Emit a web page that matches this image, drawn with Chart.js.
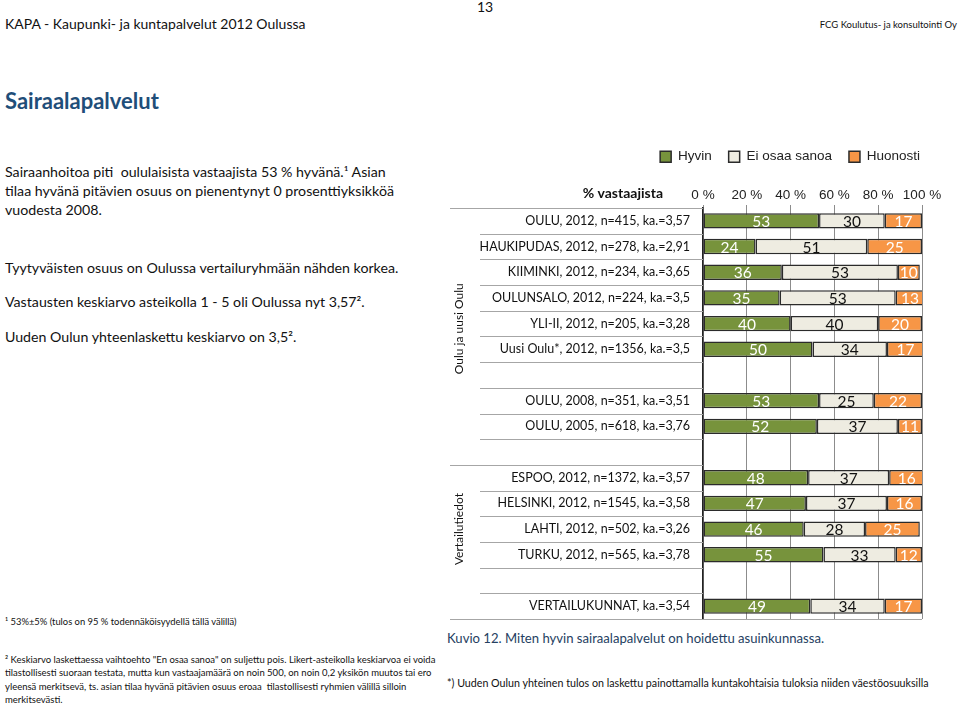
<!DOCTYPE html>
<html>
<head>
<meta charset="utf-8">
<script src="https://cdn.jsdelivr.net/npm/chart.js@4.4.1/dist/chart.umd.min.js"></script>
<style>
  body { margin: 0; width: 960px; height: 703px; background: #fff; overflow: hidden; position: relative; font-family: Lato, sans-serif; color: #111; }
  .t { position: absolute; white-space: nowrap; }
  #chartBox { position: absolute; left: 440px; top: 140px; width: 520px; height: 490px; }
</style>
</head>
<body>
  <div class="t" style="left:0;width:970px;text-align:center;top:-1px;font-size:14px;line-height:16px;">13</div>
  <div class="t" style="left:5px;top:15px;font-size:14px;line-height:18px;">KAPA - Kaupunki- ja kuntapalvelut 2012 Oulussa</div>
  <div class="t" style="right:3px;top:18px;font-size:9.5px;line-height:13px;">FCG Koulutus- ja konsultointi Oy</div>

  <div class="t" style="left:5px;top:87px;font-size:22px;line-height:28px;font-weight:bold;color:#1f4e79;">Sairaalapalvelut</div>

  <div class="t" style="left:5px;top:162px;font-size:14.2px;line-height:19px;">
    Sairaanhoitoa piti&nbsp; oululaisista vastaajista 53 % hyvänä.¹ Asian<br>
    tilaa hyvänä pitävien osuus on pienentynyt 0 prosenttiyksikköä<br>
    vuodesta 2008.
  </div>
  <div class="t" style="left:5px;top:258px;font-size:14.2px;line-height:19px;">Tyytyväisten osuus on Oulussa vertailuryhmään nähden korkea.</div>
  <div class="t" style="left:5px;top:292px;font-size:14.2px;line-height:19px;">Vastausten keskiarvo asteikolla 1 - 5 oli Oulussa nyt 3,57².</div>
  <div class="t" style="left:5px;top:327px;font-size:14.2px;line-height:19px;">Uuden Oulun yhteenlaskettu keskiarvo on 3,5².</div>

  <div class="t" style="left:5px;top:615px;font-size:9.4px;line-height:14px;">¹ 53%±5% (tulos on 95 % todennäköisyydellä tällä välillä)</div>
  <div class="t" style="left:5px;top:653px;font-size:9.5px;line-height:13.4px;">
    ² Keskiarvo laskettaessa vaihtoehto "En osaa sanoa" on suljettu pois. Likert-asteikolla keskiarvoa ei voida<br>
    tilastollisesti suoraan testata, mutta kun vastaajamäärä on noin 500, on noin 0,2 yksikön muutos tai ero<br>
    yleensä merkitsevä, ts. asian tilaa hyvänä pitävien osuus eroaa&nbsp; tilastollisesti ryhmien välillä silloin<br>
    merkitsevästi.
  </div>

  <div class="t" style="left:447px;top:629px;font-size:13.1px;line-height:18px;color:#254061;">Kuvio 12. Miten hyvin sairaalapalvelut on hoidettu asuinkunnassa.</div>
  <div class="t" style="left:447px;top:676px;font-size:10.7px;line-height:14px;">*) Uuden Oulun yhteinen tulos on laskettu painottamalla kuntakohtaisia tuloksia niiden väestöosuuksilla</div>

  <div id="chartBox"><canvas id="myChart"></canvas></div>

<script>
var categories = [
  "OULU, 2012, n=415, ka.=3,57",
  "HAUKIPUDAS, 2012, n=278, ka.=2,91",
  "KIIMINKI, 2012, n=234, ka.=3,65",
  "OULUNSALO, 2012, n=224, ka.=3,5",
  "YLI-II, 2012, n=205, ka.=3,28",
  "Uusi Oulu*, 2012, n=1356, ka.=3,5",
  "",
  "OULU, 2008, n=351, ka.=3,51",
  "OULU, 2005, n=618, ka.=3,76",
  "",
  "ESPOO, 2012, n=1372, ka.=3,57",
  "HELSINKI, 2012, n=1545, ka.=3,58",
  "LAHTI, 2012, n=502, ka.=3,26",
  "TURKU, 2012, n=565, ka.=3,78",
  "",
  "VERTAILUKUNNAT, ka.=3,54"
];
var hyvin    = [53, 24, 36, 35, 40, 50, null, 53, 52, null, 48, 47, 46, 55, null, 49];
var eiOsaa   = [30, 51, 53, 53, 40, 34, null, 25, 37, null, 37, 37, 28, 33, null, 34];
var huonosti = [17, 25, 10, 13, 20, 17, null, 22, 11, null, 16, 16, 25, 12, null, 17];
var xTicks = [0, 20, 40, 60, 80, 100];

// row index where a group starts (line reaches further left), plus group titles
var groupStarts = [0, 10, 16];
var groupTitles = [
  { text: "Oulu ja uusi Oulu", at: 4.2 },
  { text: "Vertailutiedot", at: 12.0 }
];

var PLOT_TOP = 68;     // plot top inside the canvas
var LEGEND_DX = 15;    // push legend to the right edge like the original
var LEGEND_DY = -7;

var extras = {
  id: 'extras',
  afterUpdate: function(chart) {
    var lg = chart.legend;
    if (!lg) return;
    lg.left += LEGEND_DX; lg.right += LEGEND_DX;
    lg.top += LEGEND_DY; lg.bottom += LEGEND_DY;
  },
  afterDraw: function(chart) {
    var ctx = chart.ctx;
    var y = chart.scales.y;
    var area = chart.chartArea;
    ctx.save();
    // row separators in the label area
    ctx.strokeStyle = '#a6a6a6';
    ctx.lineWidth = 1.2;
    for (var i = 0; i <= categories.length; i++) {
      var py = Math.round(y.getPixelForValue(i - 0.5)) + 0.5;
      var isGroup = groupStarts.indexOf(i) >= 0;
      ctx.beginPath();
      ctx.moveTo(isGroup ? 10 : 40, py);
      ctx.lineTo(i === categories.length ? area.right : area.left, py);
      ctx.stroke();
    }
    // group titles
    ctx.fillStyle = '#111';
    ctx.font = '12px Lato';
    ctx.textAlign = 'center';
    ctx.textBaseline = 'middle';
    groupTitles.forEach(function(g) {
      ctx.save();
      ctx.translate(19, y.getPixelForValue(g.at));
      ctx.rotate(-Math.PI / 2);
      ctx.fillText(g.text, 0, 0);
      ctx.restore();
    });
    // axis title on the tick row
    ctx.font = 'bold 14px Lato';
    ctx.textAlign = 'right';
    ctx.fillText('% vastaajista', area.left - 40, area.top - 15);
    ctx.restore();
  },
  afterDatasetsDraw: function(chart) {
    var ctx = chart.ctx;
    ctx.save();
    ctx.font = '15.5px Lato';
    ctx.textAlign = 'center';
    ctx.textBaseline = 'middle';
    chart.data.datasets.forEach(function(ds, di) {
      var meta = chart.getDatasetMeta(di);
      meta.data.forEach(function(bar, i) {
        var v = ds.data[i];
        if (v === null) return;
        var p = bar.getProps(['x', 'y', 'base']);
        ctx.fillStyle = ds.labelColor;
        ctx.fillText(String(v), (p.x + p.base) / 2, p.y + 1);
      });
    });
    ctx.restore();
  }
};

var ctx = document.getElementById('myChart').getContext('2d');
var chart = new Chart(ctx, {
  type: 'bar',
  data: {
    labels: categories,
    datasets: [
      { label: 'Hyvin', data: hyvin, backgroundColor: '#77933c', labelColor: '#ffffff' },
      { label: 'Ei osaa sanoa', data: eiOsaa, backgroundColor: '#eeece1', labelColor: '#111111' },
      { label: 'Huonosti', data: huonosti, backgroundColor: '#f79646', labelColor: '#ffffff' }
    ]
  },
  options: {
    indexAxis: 'y',
    responsive: true,
    maintainAspectRatio: false,
    animation: false,
    layout: { padding: { left: 0, right: 38, top: 0, bottom: 11 } },
    datasets: {
      bar: {
        borderColor: '#2b2b2b',
        borderWidth: 1.5,
        borderSkipped: false,
        barPercentage: 0.6,
        categoryPercentage: 1
      }
    },
    plugins: {
      legend: {
        position: 'top',
        align: 'end',
        labels: {
          boxWidth: 11,
          boxHeight: 11,
          padding: 17,
          color: '#222',
          font: { family: 'Liberation Sans', size: 13.5 }
        }
      },
      tooltip: { enabled: false }
    },
    scales: {
      x: {
        position: 'top',
        stacked: true,
        min: 0,
        max: 100,
        afterBuildTicks: function(scale) {
          scale.ticks = xTicks.map(function(v) { return { value: v }; });
        },
        afterFit: function(scale) {
          var lg = scale.chart.legend;
          scale.height = PLOT_TOP - (lg ? lg.height : 0);
        },
        ticks: {
          callback: function(v) { return v + ' %'; },
          color: '#222',
          padding: 2,
          maxRotation: 0,
          font: { family: 'Liberation Sans', size: 13.5 }
        },
        grid: { color: '#8c8c8c', lineWidth: 1, tickLength: 3 },
        border: { display: false }
      },
      y: {
        stacked: true,
        afterFit: function(scale) {
          scale.width = 263;
          scale.paddingTop = 0;
          scale.paddingBottom = 0;
        },
        ticks: {
          color: '#111',
          padding: 13,
          font: { family: 'Lato', size: 12.5 }
        },
        grid: { display: false, drawTicks: false },
        border: { display: true, color: '#222', width: 1.5 }
      }
    }
  },
  plugins: [extras]
});
</script>
</body>
</html>
